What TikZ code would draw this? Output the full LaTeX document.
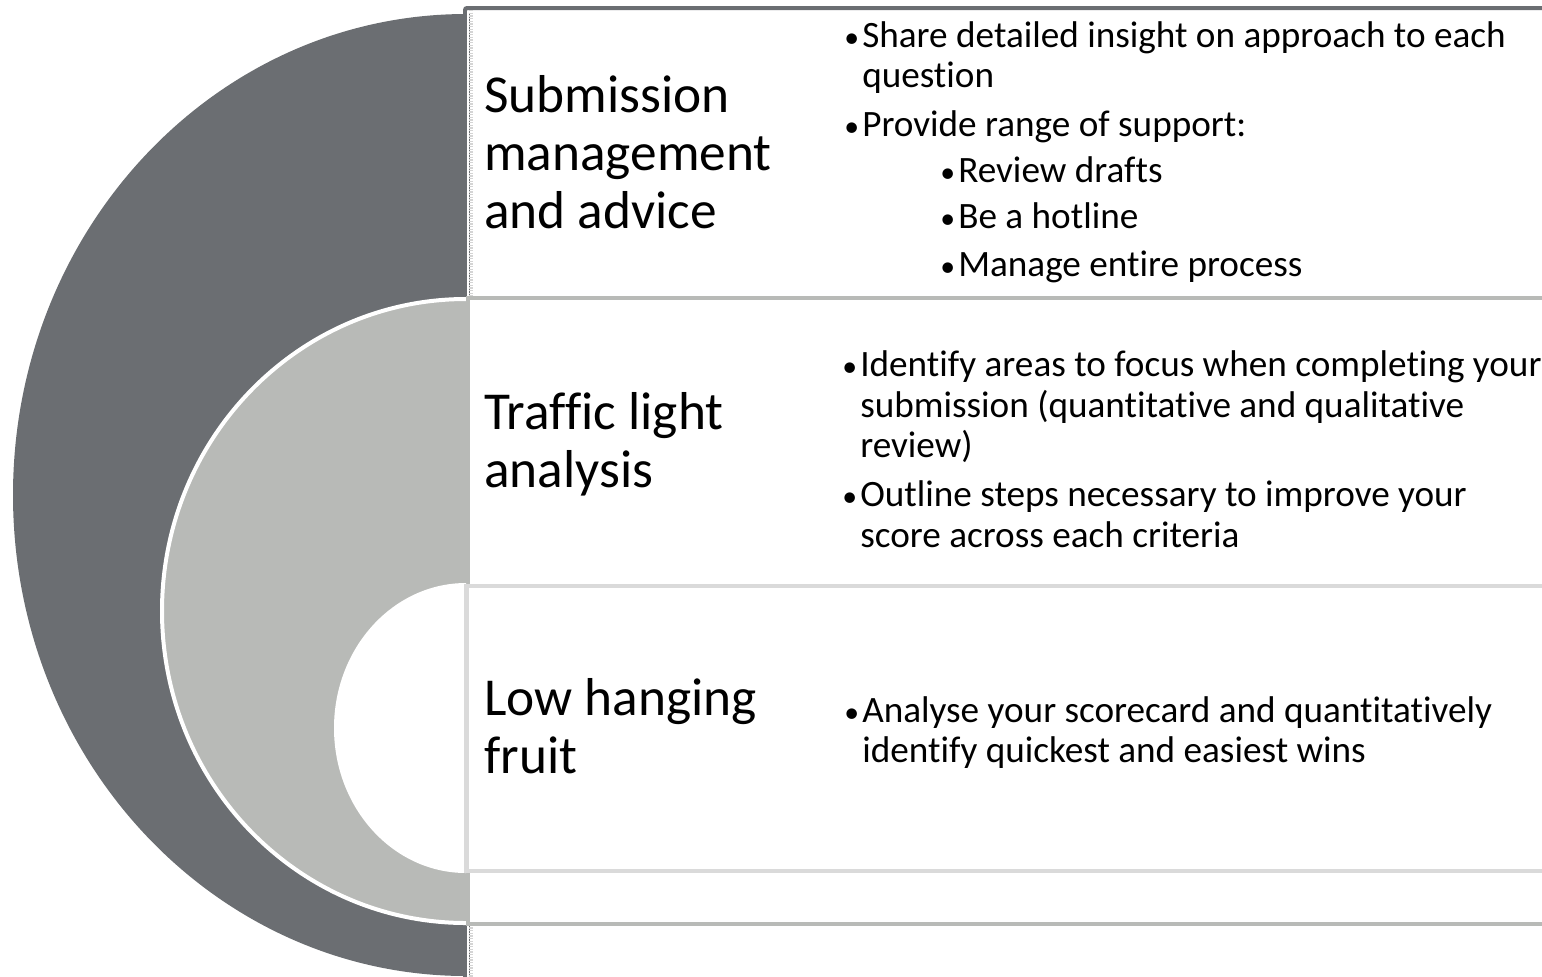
\documentclass[tikz,border=0pt]{standalone}
\usepackage{fontspec}
\setmainfont[Ligatures=NoCommon]{Carlito}
\definecolor{darkg}{HTML}{6B6E72}
\definecolor{midg}{HTML}{B8BAB7}
\definecolor{lightg}{HTML}{DADADA}
\definecolor{hatch}{HTML}{D4D4D4}
\newcommand{\bul}{\makebox[13.5pt][l]{\scalebox{0.8}{•}}}
\begin{document}
\begin{tikzpicture}[x=0.75pt,y=-0.75pt,
  title/.style={anchor=base west, inner sep=0pt, font=\fontsize{40}{44}\selectfont},
  body/.style={anchor=base west, inner sep=0pt, font=\fontsize{27.9}{30}\selectfont},
  border/.style={line width=3pt}
]
\useasboundingbox (0,0) rectangle (1542,976);
\clip (0,0) rectangle (1542,976);
% outer dark half disc
\begin{scope}
  \clip (0,0) rectangle (470,976);
  \fill[darkg] (466,495) ellipse [x radius=339.75pt, y radius=360.75pt];
\end{scope}
% box 1
\fill[white] (470,8) rectangle (1560,1000);
\draw[darkg, border, rounded corners=1.5pt] (465,1000) -- (465,8) -- (1560,8);
\draw[hatch, line width=3pt, dash pattern=on 1pt off 1pt] (471,10) -- (471,990);
\fill[white] (467,11) rectangle (469,990);
% middle half disc
\begin{scope}
  \clip (0,0) rectangle (467,976);
  \filldraw[midg, draw=white, line width=3pt] (466,611) ellipse [x radius=228pt, y radius=234pt];
\end{scope}
% box 2
\draw[midg, border, fill=white] (468,298) rectangle (1560,924);
% inner white half disc
\begin{scope}
  \clip (0,0) rectangle (466,976);
  \fill[white] (466,728) ellipse [x radius=99pt, y radius=108.75pt];
\end{scope}
% box 3
\draw[lightg, line width=3.5pt, fill=white] (466.5,586) rectangle (1560,871);

% titles
\node[title] (t1a) at (484,112) {Submission};
\node[title] (t1b) at (484,170) {management};
\node[title] (t1c) at (484,228) {and advice};
\node[title] (t2a) at (484,429) {Traffic light};
\node[title] (t2b) at (484,487) {analysis};
\node[title] (t3a) at (484,715) {Low hanging};
\node[title] (t3b) at (484,773) {fruit};

% box 1 bullets
\node[body] (b1a) at (844,47) {\bul Share detailed insight on approach to each};
\node[body] (b1b) at (862,87) {question};
\node[body] (b1c) at (844,136) {\bul Provide range of support:};
\node[body] (b1d) at (940,182) {\bul Review drafts};
\node[body] (b1e) at (940,228) {\bul Be a hotline};
\node[body] (b1f) at (940,276) {\bul Manage entire process};

% box 2 bullets
\node[body] (b2a) at (842,376) {\bul Identify areas to focus when completing your};
\node[body] (b2b) at (860,417) {submission (quantitative and qualitative};
\node[body] (b2c) at (860,457) {review)};
\node[body] (b2d) at (842,506) {\bul Outline steps necessary to improve your};
\node[body] (b2e) at (860,547) {score across each criteria};

% box 3 bullets
\node[body] (b3a) at (844,722) {\bul Analyse your scorecard and quantitatively};
\node[body] (b3b) at (862,762) {identify quickest and easiest wins};
\end{tikzpicture}
\end{document}
